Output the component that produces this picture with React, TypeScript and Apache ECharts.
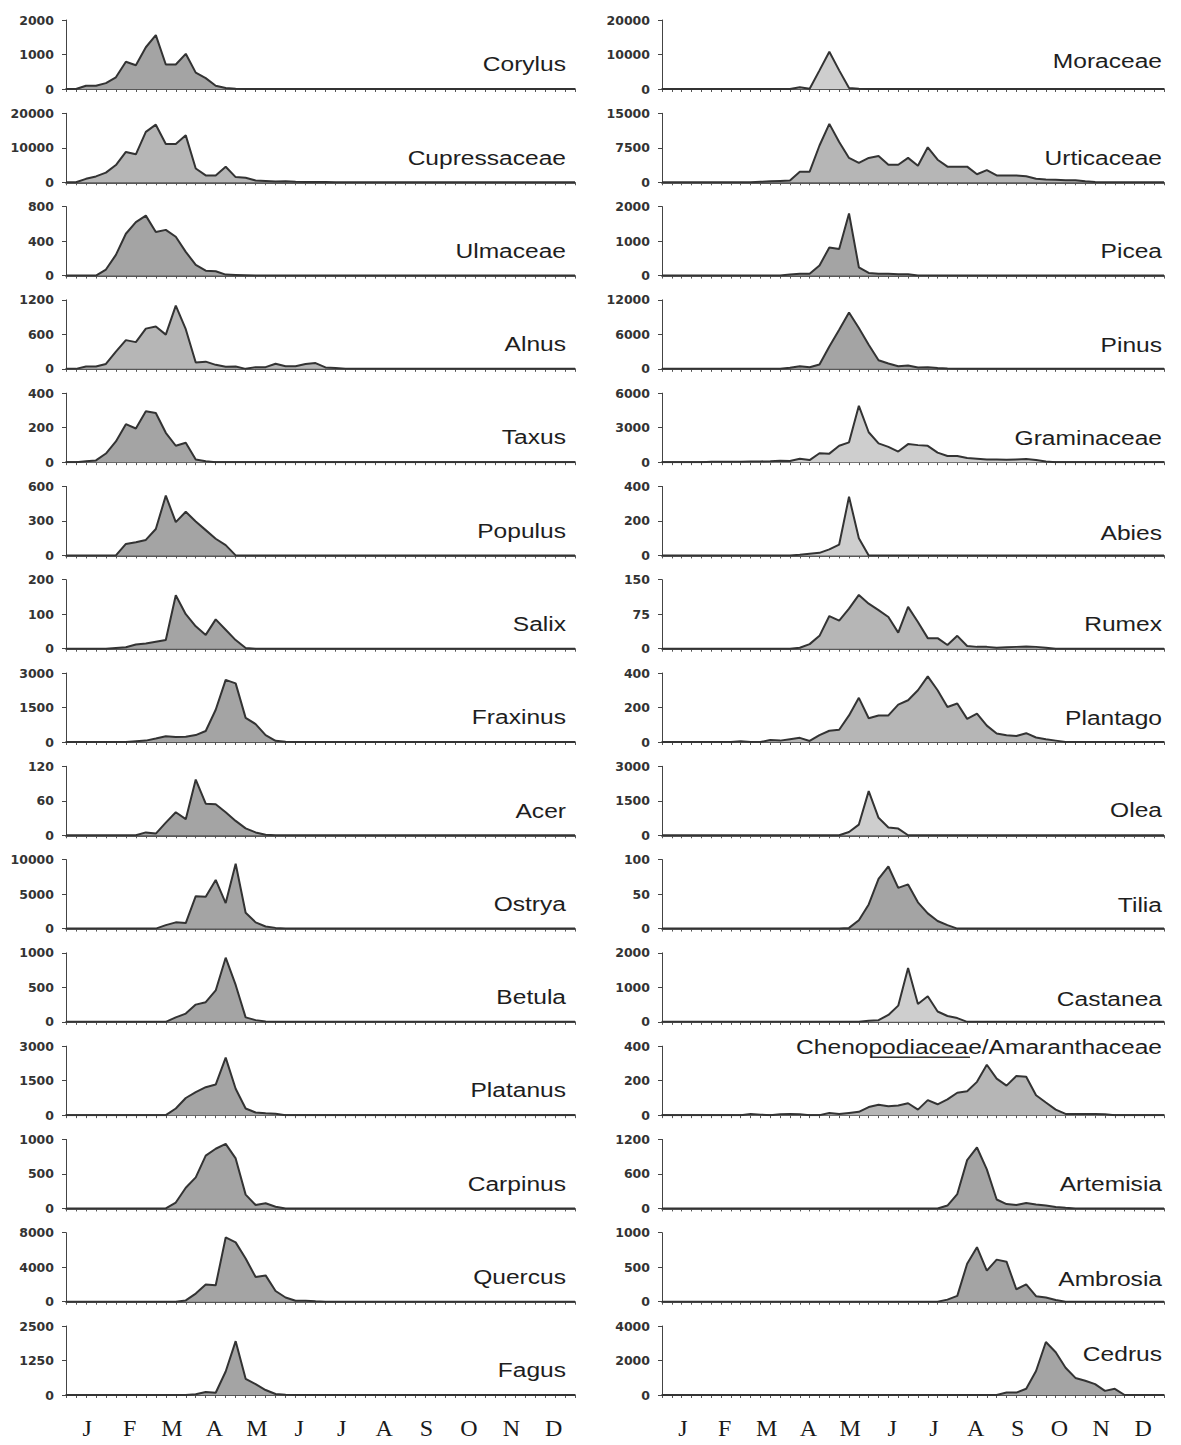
import React, { useEffect, useRef } from "react";
import * as echarts from "echarts";

// 52 weekly sampling points over the year
const WEEKS: string[] = Array.from({ length: 52 }, (_, i) => "W" + (i + 1));
const MONTH_NAMES = ["Jan", "Feb", "Mar", "Apr", "May", "Jun", "Jul", "Aug", "Sep", "Oct", "Nov", "Dec"];

// ---------- left column ----------
const corylus = [
  0, 0, 95, 95, 170, 340, 790, 690, 1210, 1560,
  710, 710, 1020, 475, 315, 95, 30, 10, 0, 0,
  0, 0, 0, 0, 0, 0, 0, 0, 0, 0,
  0, 0, 0, 0, 0, 0, 0, 0, 0, 0,
  0, 0, 0, 0, 0, 0, 0, 0, 0, 0,
  0, 0];
const cupressaceae = [
  0, 0, 1000, 1700, 2800, 5000, 8800, 8100, 14600, 16700,
  11100, 11100, 13600, 4000, 2000, 2000, 4500, 1500, 1300, 500,
  400, 200, 300, 150, 100, 100, 50, 0, 0, 0,
  0, 0, 0, 0, 0, 0, 0, 0, 0, 0,
  0, 0, 0, 0, 0, 0, 0, 0, 0, 0,
  0, 0];
const ulmaceae = [
  0, 0, 0, 0, 70, 240, 485, 620, 695, 505,
  530, 450, 275, 125, 57, 50, 11, 8, 4, 0,
  0, 0, 0, 0, 0, 0, 0, 0, 0, 0,
  0, 0, 0, 0, 0, 0, 0, 0, 0, 0,
  0, 0, 0, 0, 0, 0, 0, 0, 0, 0,
  0, 0];
const alnus = [
  0, 0, 40, 40, 85, 300, 500, 465, 700, 735,
  595, 1100, 690, 110, 125, 70, 35, 40, 0, 30,
  30, 90, 45, 45, 85, 100, 25, 15, 0, 0,
  0, 0, 0, 0, 0, 0, 0, 0, 0, 0,
  0, 0, 0, 0, 0, 0, 0, 0, 0, 0,
  0, 0];
const taxus = [
  0, 0, 5, 10, 50, 120, 220, 195, 295, 285,
  170, 95, 112, 15, 5, 0, 0, 0, 0, 0,
  0, 0, 0, 0, 0, 0, 0, 0, 0, 0,
  0, 0, 0, 0, 0, 0, 0, 0, 0, 0,
  0, 0, 0, 0, 0, 0, 0, 0, 0, 0,
  0, 0];
const populus = [
  0, 0, 0, 0, 0, 0, 100, 115, 135, 230,
  520, 290, 380, 295, 220, 145, 90, 0, 0, 0,
  0, 0, 0, 0, 0, 0, 0, 0, 0, 0,
  0, 0, 0, 0, 0, 0, 0, 0, 0, 0,
  0, 0, 0, 0, 0, 0, 0, 0, 0, 0,
  0, 0];
const salix = [
  0, 0, 0, 0, 0, 2, 4, 12, 15, 20,
  25, 155, 100, 65, 40, 85, 55, 25, 2, 0,
  0, 0, 0, 0, 0, 0, 0, 0, 0, 0,
  0, 0, 0, 0, 0, 0, 0, 0, 0, 0,
  0, 0, 0, 0, 0, 0, 0, 0, 0, 0,
  0, 0];
const fraxinus = [
  0, 0, 0, 0, 0, 0, 0, 30, 60, 150,
  250, 220, 230, 300, 480, 1400, 2700, 2550, 1050, 780,
  300, 50, 10, 0, 0, 0, 0, 0, 0, 0,
  0, 0, 0, 0, 0, 0, 0, 0, 0, 0,
  0, 0, 0, 0, 0, 0, 0, 0, 0, 0,
  0, 0];
const acer = [
  0, 0, 0, 0, 0, 0, 0, 0, 5, 3,
  22, 40, 28, 97, 55, 54, 40, 25, 12, 5,
  1, 0, 0, 0, 0, 0, 0, 0, 0, 0,
  0, 0, 0, 0, 0, 0, 0, 0, 0, 0,
  0, 0, 0, 0, 0, 0, 0, 0, 0, 0,
  0, 0];
const ostrya = [
  0, 0, 0, 0, 0, 0, 0, 0, 0, 0,
  500, 900, 800, 4700, 4600, 7050, 3700, 9400, 2300, 900,
  300, 100, 0, 0, 0, 0, 0, 0, 0, 0,
  0, 0, 0, 0, 0, 0, 0, 0, 0, 0,
  0, 0, 0, 0, 0, 0, 0, 0, 0, 0,
  0, 0];
const betula = [
  0, 0, 0, 0, 0, 0, 0, 0, 0, 0,
  0, 65, 120, 250, 285, 455, 930, 535, 65, 25,
  5, 0, 0, 0, 0, 0, 0, 0, 0, 0,
  0, 0, 0, 0, 0, 0, 0, 0, 0, 0,
  0, 0, 0, 0, 0, 0, 0, 0, 0, 0,
  0, 0];
const platanus = [
  0, 0, 0, 0, 0, 0, 0, 0, 0, 0,
  0, 290, 745, 1000, 1215, 1330, 2500, 1145, 290, 115,
  85, 57, 0, 0, 0, 0, 0, 0, 0, 0,
  0, 0, 0, 0, 0, 0, 0, 0, 0, 0,
  0, 0, 0, 0, 0, 0, 0, 0, 0, 0,
  0, 0];
const carpinus = [
  0, 0, 0, 0, 0, 0, 0, 0, 0, 0,
  0, 85, 300, 450, 765, 865, 935, 725, 200, 50,
  75, 25, 0, 0, 0, 0, 0, 0, 0, 0,
  0, 0, 0, 0, 0, 0, 0, 0, 0, 0,
  0, 0, 0, 0, 0, 0, 0, 0, 0, 0,
  0, 0];
const quercus = [
  0, 0, 0, 0, 0, 0, 0, 0, 0, 0,
  0, 0, 150, 940, 2000, 1900, 7450, 6880, 5000, 2860,
  3050, 1240, 490, 110, 110, 40, 0, 0, 0, 0,
  0, 0, 0, 0, 0, 0, 0, 0, 0, 0,
  0, 0, 0, 0, 0, 0, 0, 0, 0, 0,
  0, 0];
const fagus = [
  0, 0, 0, 0, 0, 0, 0, 0, 0, 0,
  0, 0, 0, 25, 110, 80, 850, 1950, 585, 390,
  180, 35, 10, 0, 0, 0, 0, 0, 0, 0,
  0, 0, 0, 0, 0, 0, 0, 0, 0, 0,
  0, 0, 0, 0, 0, 0, 0, 0, 0, 0,
  0, 0];

// ---------- right column ----------
const moraceae = [
  0, 0, 0, 0, 0, 0, 0, 0, 0, 0,
  0, 0, 0, 0, 500, 100, 5400, 10800, 5400, 300,
  100, 0, 0, 0, 0, 0, 0, 0, 0, 0,
  0, 0, 0, 0, 0, 0, 0, 0, 0, 0,
  0, 0, 0, 0, 0, 0, 0, 0, 0, 0,
  0, 0];
const urticaceae = [
  0, 0, 0, 0, 0, 0, 0, 0, 0, 0,
  100, 200, 300, 400, 2300, 2300, 8000, 12700, 8750, 5300,
  4200, 5300, 5700, 3800, 3800, 5300, 3600, 7600, 4900, 3400,
  3400, 3400, 1750, 2650, 1500, 1500, 1500, 1300, 760, 600,
  530, 450, 450, 230, 80, 0, 0, 0, 0, 0,
  0, 0];
const picea = [
  0, 0, 0, 0, 0, 0, 0, 0, 0, 0,
  0, 0, 0, 30, 50, 50, 290, 815, 770, 1800,
  240, 75, 50, 50, 40, 40, 0, 0, 0, 0,
  0, 0, 0, 0, 0, 0, 0, 0, 0, 0,
  0, 0, 0, 0, 0, 0, 0, 0, 0, 0,
  0, 0];
const pinus = [
  0, 0, 0, 0, 0, 0, 0, 0, 0, 0,
  0, 0, 30, 200, 460, 290, 750, 3900, 6800, 9800,
  7100, 4200, 1500, 920, 460, 580, 230, 290, 170, 60,
  0, 0, 0, 0, 0, 0, 0, 0, 0, 0,
  0, 0, 0, 0, 0, 0, 0, 0, 0, 0,
  0, 0];
const graminaceae = [
  0, 0, 0, 0, 0, 30, 30, 30, 40, 50,
  60, 80, 120, 100, 300, 180, 770, 740, 1420, 1720,
  4900, 2600, 1630, 1330, 920, 1570, 1480, 1420, 830, 530,
  530, 355, 300, 240, 240, 210, 240, 270, 180, 60,
  0, 0, 0, 0, 0, 0, 0, 0, 0, 0,
  0, 0];
const abies = [
  0, 0, 0, 0, 0, 0, 0, 0, 0, 0,
  0, 0, 0, 0, 4, 10, 15, 35, 63, 340,
  100, 0, 0, 0, 0, 0, 0, 0, 0, 0,
  0, 0, 0, 0, 0, 0, 0, 0, 0, 0,
  0, 0, 0, 0, 0, 0, 0, 0, 0, 0,
  0, 0];
const rumex = [
  0, 0, 0, 0, 0, 0, 0, 0, 0, 0,
  0, 0, 0, 0, 2, 10, 28, 71, 61, 87,
  117, 98, 84, 69, 35, 91, 58, 23, 23, 8,
  28, 6, 4, 4, 2, 3, 4, 5, 4, 2,
  0, 0, 0, 0, 0, 0, 0, 0, 0, 0,
  0, 0];
const plantago = [
  0, 0, 0, 0, 0, 0, 0, 0, 4, 0,
  0, 12, 8, 16, 24, 6, 40, 65, 71, 154,
  256, 138, 154, 154, 217, 242, 300, 380, 300, 203,
  223, 134, 164, 95, 49, 39, 35, 51, 26, 16,
  8, 0, 0, 0, 0, 0, 0, 0, 0, 0,
  0, 0];
const olea = [
  0, 0, 0, 0, 0, 0, 0, 0, 0, 0,
  0, 0, 0, 0, 0, 0, 0, 0, 0, 140,
  465, 1920, 760, 340, 290, 0, 0, 0, 0, 0,
  0, 0, 0, 0, 0, 0, 0, 0, 0, 0,
  0, 0, 0, 0, 0, 0, 0, 0, 0, 0,
  0, 0];
const tilia = [
  0, 0, 0, 0, 0, 0, 0, 0, 0, 0,
  0, 0, 0, 0, 0, 0, 0, 0, 0, 1,
  12, 35, 72, 90, 59, 64, 38, 22, 11, 5,
  0, 0, 0, 0, 0, 0, 0, 0, 0, 0,
  0, 0, 0, 0, 0, 0, 0, 0, 0, 0,
  0, 0];
const castanea = [
  0, 0, 0, 0, 0, 0, 0, 0, 0, 0,
  0, 0, 0, 0, 0, 0, 0, 0, 0, 0,
  0, 30, 50, 200, 470, 1560, 520, 740, 300, 170,
  110, 0, 0, 0, 0, 0, 0, 0, 0, 0,
  0, 0, 0, 0, 0, 0, 0, 0, 0, 0,
  0, 0];
const chenopodiaceae = [
  0, 0, 0, 0, 0, 0, 0, 0, 0, 7,
  3, 0, 5, 7, 5, 0, 0, 13, 7, 13,
  19, 47, 60, 52, 56, 69, 32, 87, 63, 91,
  130, 138, 193, 292, 212, 171, 227, 223, 115, 73,
  32, 7, 7, 7, 7, 5, 0, 0, 0, 0,
  0, 0];
const artemisia = [
  0, 0, 0, 0, 0, 0, 0, 0, 0, 0,
  0, 0, 0, 0, 0, 0, 0, 0, 0, 0,
  0, 0, 0, 0, 0, 0, 0, 0, 0, 50,
  250, 840, 1060, 680, 155, 75, 60, 95, 70, 50,
  25, 12, 0, 0, 0, 0, 0, 0, 0, 0,
  0, 0];
const ambrosia = [
  0, 0, 0, 0, 0, 0, 0, 0, 0, 0,
  0, 0, 0, 0, 0, 0, 0, 0, 0, 0,
  0, 0, 0, 0, 0, 0, 0, 0, 0, 30,
  85, 550, 790, 450, 610, 580, 180, 250, 80, 60,
  25, 0, 0, 0, 0, 0, 0, 0, 0, 0,
  0, 0];
const cedrus = [
  0, 0, 0, 0, 0, 0, 0, 0, 0, 0,
  0, 0, 0, 0, 0, 0, 0, 0, 0, 0,
  0, 0, 0, 0, 0, 0, 0, 0, 0, 0,
  0, 0, 0, 0, 0, 140, 140, 360, 1390, 3070,
  2480, 1580, 990, 830, 630, 240, 360, 0, 0, 0,
  0, 0];

const NAMES_LEFT = ["Corylus", "Cupressaceae", "Ulmaceae", "Alnus", "Taxus", "Populus", "Salix", "Fraxinus", "Acer", "Ostrya", "Betula", "Platanus", "Carpinus", "Quercus", "Fagus"];
const NAMES_RIGHT = ["Moraceae", "Urticaceae", "Picea", "Pinus", "Graminaceae", "Abies", "Rumex", "Plantago", "Olea", "Tilia", "Castanea", "Chenopodiaceae/Amaranthaceae", "Artemisia", "Ambrosia", "Cedrus"];
const VALUES_LEFT = [corylus, cupressaceae, ulmaceae, alnus, taxus, populus, salix, fraxinus, acer, ostrya, betula, platanus, carpinus, quercus, fagus];
const VALUES_RIGHT = [moraceae, urticaceae, picea, pinus, graminaceae, abies, rumex, plantago, olea, tilia, castanea, chenopodiaceae, artemisia, ambrosia, cedrus];
const YMAX_LEFT = [2000, 20000, 800, 1200, 400, 600, 200, 3000, 120, 10000, 1000, 3000, 1000, 8000, 2500];
const YMAX_RIGHT = [20000, 15000, 2000, 12000, 6000, 400, 150, 400, 3000, 100, 2000, 400, 1200, 1000, 4000];

// styling (shade of the stippled fill per panel: 0 dark, 1 medium, 2 light)
const SHADE_LEFT = [0, 1, 0, 1, 0, 0, 0, 0, 0, 0, 0, 0, 0, 0, 0];
const SHADE_RIGHT = [2, 1, 0, 0, 2, 2, 1, 1, 2, 0, 2, 1, 0, 0, 0];
const SHADES = ["#a4a4a4", "#b6b6b6", "#cecece"];
const LABEL_DY_RIGHT = [28, 25, 25, 24, 24, 23, 25, 24, 26, 24, 23, 68, 25, 23, 41];

export default function App() {
  const ref = useRef<HTMLDivElement>(null);
  useEffect(() => {
    if (!ref.current) return;
    const chart = echarts.init(ref.current, undefined, { renderer: "svg" });
    const grids: any[] = [];
    const xAxes: any[] = [];
    const yAxes: any[] = [];
    const series: any[] = [];
    const graphics: any[] = [];
    const ROW_STEP = (1395 - 89) / 14;

    const panels: any[] = [];
    for (let r = 0; r < 15; r++) {
      panels.push({ col: 0, row: r, name: NAMES_LEFT[r], values: VALUES_LEFT[r], max: YMAX_LEFT[r], shade: SHADE_LEFT[r], dy: 25 });
    }
    for (let r = 0; r < 15; r++) {
      panels.push({ col: 1, row: r, name: NAMES_RIGHT[r], values: VALUES_RIGHT[r], max: YMAX_RIGHT[r], shade: SHADE_RIGHT[r], dy: LABEL_DY_RIGHT[r] });
    }

    panels.forEach((p, k) => {
      const zero = 89 + p.row * ROW_STEP;
      grids.push({ left: p.col ? 662 : 66, width: p.col ? 502 : 509, top: zero - 69, height: 69 });
      xAxes.push({
        gridIndex: k,
        type: "category",
        data: WEEKS,
        boundaryGap: false,
        axisLine: { lineStyle: { color: "#222", width: 1.6 } },
        axisTick: { show: true, interval: 0, length: 3, lineStyle: { color: "#555", width: 1 } },
        axisLabel: { show: false },
        splitLine: { show: false },
      });
      yAxes.push({
        gridIndex: k,
        type: "value",
        min: 0,
        max: p.max,
        interval: p.max / 2,
        axisLine: { show: true, lineStyle: { color: "#444", width: 1 } },
        axisTick: { show: true, length: 4, lineStyle: { color: "#444" } },
        axisLabel: {
          fontFamily: "DejaVu Sans",
          fontSize: 12.5,
          fontWeight: "bold",
          color: "#333",
          margin: 12,
          formatter: (v: number) => String(v),
        },
        splitLine: { show: false },
      });
      series.push({
        type: "line",
        name: p.name,
        xAxisIndex: k,
        yAxisIndex: k,
        data: p.values,
        symbol: "none",
        silent: true,
        lineStyle: { color: "#333", width: 2 },
        areaStyle: { color: SHADES[p.shade], opacity: 1 },
      });
      graphics.push({
        type: "text",
        x: p.col ? 1162 : 566,
        y: zero - p.dy,
        scaleX: 1.17,
        style: {
          text: p.name,
          fontFamily: "Liberation Sans",
          fontSize: 21,
          fill: "#1e1e1e",
          textAlign: "right",
          textVerticalAlign: "middle",
        },
      });
    });

    // month label axes under the bottom panels
    [14, 29].forEach((gi) => {
      xAxes.push({
        gridIndex: gi,
        type: "category",
        data: MONTH_NAMES,
        boundaryGap: true,
        position: "bottom",
        offset: 14,
        axisLine: { show: false },
        axisTick: { show: false },
        splitLine: { show: false },
        axisLabel: {
          interval: 0,
          margin: 7,
          fontFamily: "Liberation Serif",
          fontSize: 24,
          color: "#1a1a1a",
          formatter: (v: string) => v.charAt(0),
        },
      });
    });

    // underline in the Chenopodiaceae label
    const chenoZero = 89 + 11 * ROW_STEP;
    graphics.push({
      type: "line",
      shape: { x1: 872, y1: chenoZero - 58, x2: 970, y2: chenoZero - 58 },
      style: { stroke: "#333", lineWidth: 1.5 },
    });

    chart.setOption({
      animation: false,
      backgroundColor: "#ffffff",
      grid: grids,
      xAxis: xAxes,
      yAxis: yAxes,
      series,
      graphic: graphics,
    });
    return () => chart.dispose();
  }, []);

  return (
    <div
      ref={ref}
      style={{ position: "absolute", left: 0, top: 0, width: 1181, height: 1445, background: "#fff" }}
    />
  );
}
